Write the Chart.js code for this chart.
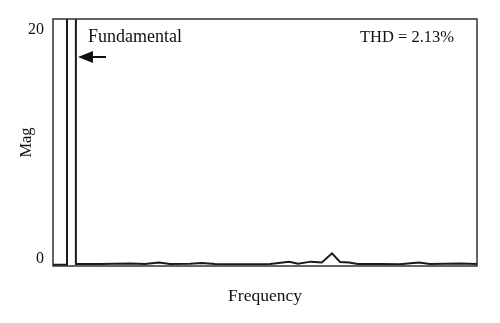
<!DOCTYPE html>
<html>
<head>
<meta charset="utf-8">
<script src="https://cdn.jsdelivr.net/npm/chart.js@4.4.0/dist/chart.umd.min.js"></script>
<style>
  html, body { margin: 0; padding: 0; background: #fff; }
  #wrap { width: 500px; height: 323px; }
</style>
</head>
<body>
<div id="wrap"><canvas id="myChart" width="500" height="323"></canvas></div>
<script>
// frequency axis in arbitrary units (0 = left edge, 100 = right edge)
const freq = [0, 3.3, 3.3, 5.4, 5.4, 11.1, 18.2, 21.7, 25.0, 27.6, 32.3, 35.1, 38.2, 44.1, 51.2,
              55.7, 57.8, 60.8, 63.4, 65.8, 67.7, 69.8, 71.9, 77.1, 81.8, 86.3, 88.9, 92.5, 96.0, 100];
const mag  = [-0.5, -0.5, 25, 25, -0.43, -0.43, -0.38, -0.43, -0.3, -0.43, -0.4, -0.33, -0.43, -0.45, -0.42,
              -0.24, -0.4, -0.22, -0.3, 0.5, -0.25, -0.3, -0.42, -0.42, -0.45, -0.3, -0.42, -0.4, -0.38, -0.42];
const yTicks = [0, 20];
const fundamentalLabel = 'Fundamental';
const thdLabel = 'THD = 2.13%';

const serif = '"Liberation Serif", "DejaVu Serif", serif';

const boxAndNotes = {
    id: 'boxAndNotes',
    afterDraw(chart) {
        const ctx = chart.ctx, a = chart.chartArea;
        ctx.save();
        ctx.strokeStyle = '#333';
        ctx.lineWidth = 1.5;
        ctx.strokeRect(a.left, a.top, a.right - a.left, a.bottom - a.top);

        ctx.fillStyle = '#111';
        ctx.textBaseline = 'alphabetic';
        ctx.font = '18px ' + serif;
        ctx.textAlign = 'left';
        ctx.fillText(fundamentalLabel, a.left + 35, a.top + 23);
        ctx.font = '16.5px ' + serif;
        ctx.textAlign = 'right';
        ctx.fillText(thdLabel, a.right - 23, a.top + 23);

        // arrow pointing at the fundamental
        const ay = a.top + 38, tip = a.left + 25;
        ctx.strokeStyle = '#111';
        ctx.lineWidth = 2;
        ctx.beginPath();
        ctx.moveTo(tip + 10, ay);
        ctx.lineTo(tip + 28, ay);
        ctx.stroke();
        ctx.beginPath();
        ctx.moveTo(tip, ay);
        ctx.lineTo(tip + 15, ay - 6);
        ctx.lineTo(tip + 15, ay + 6);
        ctx.closePath();
        ctx.fill();
        ctx.restore();
    }
};

const ctx = document.getElementById('myChart').getContext('2d');
const myChart = new Chart(ctx, {
    type: 'line',
    data: {
        datasets: [{
            data: freq.map((f, i) => ({ x: f, y: mag[i] })),
            borderColor: '#1a1a1a',
            borderWidth: 2,
            pointRadius: 0,
            tension: 0,
            fill: false
        }]
    },
    options: {
        responsive: false,
        animation: false,
        layout: { padding: { top: 19, right: 23, left: 17, bottom: 0 } },
        plugins: { legend: { display: false }, tooltip: { enabled: false } },
        scales: {
            x: {
                type: 'linear',
                min: 0,
                max: 100,
                grid: { display: false, drawTicks: false },
                border: { display: false },
                ticks: { display: false },
                title: {
                    display: true,
                    text: 'Frequency',
                    color: '#111',
                    font: { family: serif, size: 17.5 },
                    padding: { top: 20, bottom: 16 }
                },
                afterFit(scale) { scale.height = 57; }
            },
            y: {
                min: -0.6,
                max: 20.9,
                grid: { display: false, drawTicks: false },
                border: { display: false },
                afterBuildTicks(scale) { scale.ticks = yTicks.map(v => ({ value: v })); },
                ticks: {
                    color: '#111',
                    padding: 9,
                    font: { family: serif, size: 16 }
                },
                title: {
                    display: true,
                    text: 'Mag',
                    color: '#111',
                    font: { family: serif, size: 16.5 },
                    padding: 0
                },
                afterFit(scale) { scale.width = 36; }
            }
        }
    },
    plugins: [boxAndNotes]
});
</script>
</body>
</html>
